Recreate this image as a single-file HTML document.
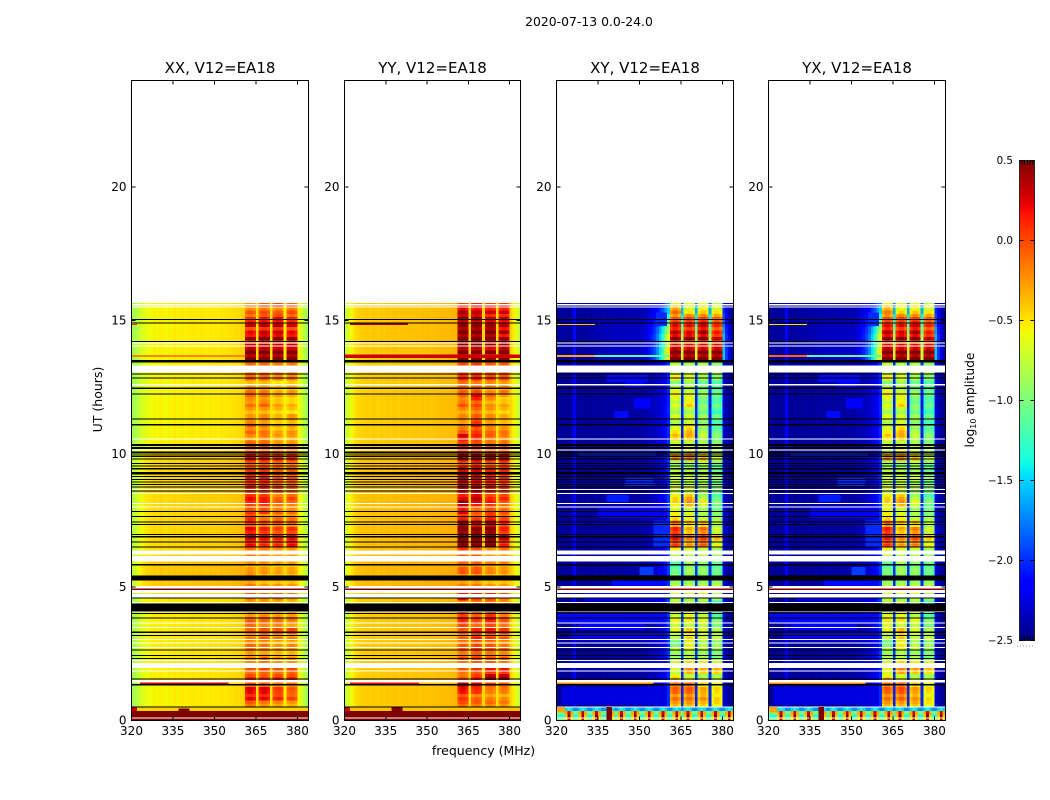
<!DOCTYPE html>
<html>
<head>
<meta charset="utf-8">
<title>2020-07-13 amplitude spectrogram</title>
<style>
html,body{margin:0;padding:0;background:#fff;}
svg{display:block;font-family:"DejaVu Sans","Liberation Sans",sans-serif;}
</style>
</head>
<body>
<svg id="figure" xmlns="http://www.w3.org/2000/svg" width="1050" height="800" viewBox="0 0 1050 800">
  <text x="589" y="26" font-size="12.4" text-anchor="middle" fill="#000">2020-07-13 0.0-24.0</text>
  <text x="483.5" y="755" font-size="12.5" text-anchor="middle" fill="#000">frequency (MHz)</text>
  <text x="0" y="0" transform="translate(102,399.5) rotate(-90)" font-size="12.5" text-anchor="middle" fill="#000">UT (hours)</text>
  <text x="0" y="0" transform="translate(974,400) rotate(-90)" font-size="12.3" text-anchor="middle" fill="#000">log<tspan font-size="8" dy="2">10</tspan><tspan dy="-2"> amplitude</tspan></text>
</svg>
<script>
/* ---------- axis tick labels ---------- */
const freqTicks = [320, 335, 350, 365, 380];
const timeTicks = [0, 5, 10, 15, 20];
const colorTicks = [0.5, 0, -0.5, -1, -1.5, -2, -2.5];

/* ---------- time bins (hours) ---------- */
const timeStarts = [0.5,0.75,1,1.25,1.5,1.75,2,2.25,2.5,2.75,3,3.25,3.5,3.75,4,4.25,4.5,4.75,5,5.25,5.5,5.75,6,6.25,6.5,6.75,7,7.25,7.5,7.75,8,8.25,8.5,8.75,9,9.25,9.5,9.75,10,10.25,10.5,10.75,11,11.25,11.5,11.75,12,12.25,12.5,12.75,13,13.25,13.5,13.75,14,14.25,14.5,14.75,15,15.25,15.5];
const dataEnd = 15.65;
const bottomStarts = [0, 0.1, 0.22, 0.35];
const bottomEnd = 0.5;

/* ---------- half-bin striping seen in the 360-380 MHz subbands (two values per time bin) ---------- */
const subbandRipple = [-.05,.05,.08,-.06,.02,.06,-.08,.05,.06,-.06,-.04,.08,-.07,.05,.08,-.04,-.06,.07,.05,-.08,.06,-.05,.04,.07,-.06,.05,.08,-.07,-.05,.06,.07,-.04,-.07,.05,.06,-.05,.04,-.08,.07,-.05,.06,.05,-.07,.08,.05,-.06,.02,-.03,.06,-.05,.04,.07,-.06,.05,-.07,.08,.05,-.06,.07,-.04,-.05,.07,.06,-.06,-.07,.05,.08,-.05,.04,-.07,.06,.05,-.06,.07,.05,-.05,-.08,.06,.07,-.04,-.06,.05,.07,-.05,.04,-.08,.06,.05,-.07,.06,.08,-.05,-.06,.07,.05,-.06,.04,-.07,.08,.05,-.03,.04,.02,-.02,.12,-.14,.14,-.16,.12,-.12,.15,-.14,.12,-.13,.1,-.12,.14,-.1,.1,-.08,.08,-.06];

/* ---------- harmonic interference frequencies (MHz) ---------- */
const spikeFreqs = [324.5,329.3,334.2,339,343.8,348.7,353.5,358.3,363.1,367.9,372.8,377.6,382.4];

/* ---------- flagged intervals [start hour, end hour] ---------- */
const whiteFlags = [[15.57,15.61],[15.48,15.52],[14.13,14.17],[14.03,14.07],[13.05,13.31],[12.57,12.61],[10.54,10.58],[10.13,10.17],[8.64,8.68],[8.5,8.54],[8.11,8.15],[7.98,8.02],[6.23,6.38],[5.96,6.16],[4.95,5.05],[4.79,4.9],[4.6,4.75],[4.4,4.44],[4.06,4.1],[3.63,3.67],[3.46,3.5],[3.01,3.05],[2.89,2.93],[2.71,2.75],[2.23,2.27],[1.97,2.15],[1.83,1.87],[1.42,1.52],[0.08,0.12]];
const blackFlags = [[15.01,15.05],[14.89,14.93],[14.2,14.24],[13.43,13.51],[12.98,13.02],[12.83,12.87],[12.44,12.48],[12.23,12.27],[11.29,11.33],[11.07,11.11],[10.29,10.36],[10.19,10.26],[10.04,10.08],[9.98,10.02],[9.89,9.93],[9.79,9.83],[9.61,9.65],[9.52,9.56],[9.42,9.46],[9.23,9.31],[9.13,9.17],[9.02,9.06],[8.92,8.96],[8.83,8.87],[8.73,8.77],[8.58,8.62],[7.82,7.86],[7.63,7.67],[7.42,7.46],[7.33,7.37],[6.96,7],[6.87,6.91],[6.68,6.72],[6.49,6.53],[5.82,5.87],[5.25,5.44],[4.58,4.62],[4.09,4.38],[4,4.04],[3.83,3.87],[3.29,3.33],[3.16,3.2],[2.63,2.67],[2.41,2.45],[2.31,2.35],[1.54,1.58],[1.32,1.36]];

/* ---------- faint patches in the cross-hand panels [t0, t1, level, f0, f1] ---------- */
const crossPatches = [[12.7,12.95,-2.1,338,353],[12.5,12.7,-2.15,345,352],[11.7,12.07,-2.15,348,354],[11.35,11.6,-2.1,341,346],[8.2,8.45,-2.05,338,346],[9.9,10.1,-2,328,356],[8.8,9.1,-2,345,355],[14.8,15.3,-2,356,360],[3.7,4,-2.1,320,360],[3.4,3.65,-2.15,328,352],[5.45,5.75,-1.95,350,355],[5.05,5.25,-2.1,340,360],[2,2.25,-2.1,325,360],[0.6,1.25,-2.25,322,360],[6.5,7.5,-2,355,361],[7.6,8,-2.2,335,358],[3,3.3,-2.2,325,358],[4.5,4.8,-2.15,330,358]];

/* ---------- XX: per-channel baselines (log10 amp), 1 MHz channels from 320 ---------- */
const xxDim = [-.9,-.85,-.78,-.72,-.68,-.64,-.62,-.6,-.58,-.6,-.56,-.58,-.6,-.56,-.58,-.55,-.58,-.56,-.55,-.57,-.56,-.55,-.54,-.56,-.55,-.54,-.55,-.56,-.54,-.55,-.54,-.55,-.53,-.54,-.53,-.52,-.52,-.5,-.5,-.48,-.46,-.4,-.4,-.4,-.4,-.5,-.4,-.4,-.4,-.4,-.5,-.4,-.4,-.4,-.4,-.55,-.4,-.4,-.4,-.4,-.58,-.68,-.78,-.9];
const xxBright = [-.75,-.68,-.6,-.52,-.48,-.45,-.44,-.42,-.41,-.43,-.4,-.41,-.43,-.4,-.41,-.39,-.41,-.4,-.39,-.4,-.39,-.39,-.38,-.39,-.38,-.38,-.38,-.39,-.37,-.38,-.37,-.38,-.36,-.37,-.36,-.36,-.35,-.35,-.34,-.33,-.33,-.3,-.3,-.3,-.3,-.42,-.3,-.3,-.3,-.3,-.42,-.3,-.3,-.3,-.3,-.45,-.3,-.3,-.3,-.3,-.5,-.58,-.68,-.8];
const xxWeights = [.2,.2,.2,.25,.3,.3,.3,.3,.3,.3,.3,.3,.3,.3,.3,.3,.4,.4,1,1,1,1,.7,.7,.7,.7,.7,.7,.7,.7,.7,.7,.7,.7,.7,.7,.7,.7,.5,.3,.15,.15,.15,.15,.15,.15,.15,.15,.15,.15,.15,.15,.2,.2,.2,.2,.2,.2,.2,.2,.2];
const xxShape = [-.05,.02,.02,-.05];
const xxLevels = [[-.1,-.2,-.25,-.3],[.15,.15,.05,-.05],[.2,.2,0,-.1],[-.05,-.05,-.15,-.15],[.05,0,.05,.05],[-.1,-.05,-.1,-.05],[-.25,-.2,-.3,-.3],[-.25,-.2,-.3,-.3],[-.2,-.25,-.3,-.3],[-.15,-.2,-.3,-.25],[-.2,-.1,-.2,-.25],[-.15,-.1,-.1,-.05],[-.05,-.15,-.15,-.25],[-.2,-.15,-.2,-.2],[-.2,-.2,-.2,-.2],[-.25,-.25,-.3,-.35],[-.1,-.15,-.1,-.2],[-.1,-.15,-.15,-.2],[-.2,-.3,-.3,-.3],[-.15,-.3,-.3,-.3],[-.3,-.3,-.35,-.35],[-.3,-.3,-.35,-.35],[-.1,-.15,-.2,-.2],[-.1,-.15,-.2,-.2],[.15,.05,.05,.15],[.25,.15,.1,.15],[.2,.1,0,.05],[0,-.1,-.1,-.15],[.05,-.2,-.15,-.2],[0,0,-.15,-.2],[.05,.1,-.1,-.15],[.15,.1,-.15,-.05],[.05,.05,0,-.1],[.1,.1,-.05,-.05],[.15,.15,0,0],[0,0,-.1,-.1],[-.05,-.05,-.1,-.15],[.2,.15,.1,.1],[.05,.05,-.05,-.05],[-.05,-.05,-.2,-.2],[-.25,-.2,-.3,-.3],[-.15,-.2,-.35,-.3],[-.1,-.2,-.35,-.3],[-.3,-.25,-.4,-.3],[-.3,-.3,-.4,-.45],[-.2,-.15,-.35,-.4],[-.15,-.2,-.35,-.4],[-.15,-.2,-.35,-.3],[-.3,-.3,-.45,-.35],[-.15,-.15,-.25,-.25],[-.1,-.1,-.1,-.1],[-.1,-.1,-.15,-.15],[.5,.5,.5,.5],[.5,.5,.45,.45],[.2,.25,.2,.2],[.3,.4,.35,.3],[.1,.2,.2,.1],[.25,.3,.3,.2],[-.05,.05,.1,0],[-.15,-.1,-.15,-.1],[-.2,0,.05,-.05]];
const xxBottomBase = [.5,.5,.5,-.45];
const xxBottomNear = [.5,.5,.5,-.45];
const xxBottomSpike = [.5,.5,.5,-.45];
const xxStreaks = [[13.63,13.7,-.2,320,361],[4.9,4.95,.5,320,384],[1.375,1.42,.3,323,355],[.35,.5,.3,320,322],[.35,.45,.5,337,341],[14.83,14.875,.1,320,322]];
const xxPatches = [];
const xxExtraWhite = [];
const xxExtraBlack = [[.49,.53]];

/* ---------- YY ---------- */
const yyDim = [-.75,-.68,-.6,-.52,-.48,-.46,-.45,-.44,-.43,-.45,-.42,-.44,-.45,-.42,-.44,-.42,-.43,-.42,-.41,-.43,-.42,-.41,-.41,-.42,-.41,-.41,-.41,-.42,-.4,-.41,-.4,-.41,-.4,-.4,-.39,-.39,-.39,-.38,-.38,-.37,-.36,-.3,-.3,-.3,-.3,-.48,-.3,-.3,-.3,-.3,-.48,-.3,-.3,-.3,-.3,-.5,-.3,-.3,-.3,-.3,-.45,-.55,-.65,-.75];
const yyBright = [-.62,-.55,-.48,-.42,-.38,-.36,-.36,-.35,-.34,-.36,-.33,-.35,-.36,-.33,-.35,-.33,-.34,-.33,-.33,-.34,-.33,-.33,-.32,-.33,-.32,-.32,-.32,-.33,-.31,-.32,-.31,-.32,-.31,-.31,-.3,-.3,-.3,-.3,-.3,-.3,-.3,-.3,-.3,-.3,-.3,-.4,-.3,-.3,-.3,-.3,-.4,-.3,-.3,-.3,-.3,-.42,-.3,-.3,-.3,-.3,-.4,-.48,-.58,-.68];
const yyWeights = [.2,.2,.2,.2,.2,.2,.2,.2,.2,.2,.2,.2,.2,.2,.2,.2,.2,.2,.8,.8,.8,.8,.6,.6,.6,.6,.6,.6,.6,.6,.6,.6,.6,.6,.6,.6,.6,.6,.4,.3,.1,.1,.1,.1,.1,.1,.1,.1,.1,.1,.1,.1,.3,.3,.3,.3,.3,.3,.3,.3,.3];
const yyShape = [-.05,.02,.02,-.05];
const yyLevels = [[-.05,-.1,-.15,-.2],[0,-.15,-.25,-.3],[.15,.05,-.2,-.2],[.4,.25,0,-.05],[-.1,.1,.4,.4],[-.1,0,.1,.1],[-.2,-.1,-.1,-.2],[-.1,0,-.1,-.15],[-.1,0,-.1,-.15],[-.1,-.05,-.1,-.2],[-.1,.1,0,-.1],[-.1,.05,.1,0],[.05,-.05,.05,-.1],[.1,0,.15,-.1],[.1,0,.1,-.1],[-.2,-.1,-.1,-.2],[.3,.1,.05,-.1],[.1,.1,.05,-.05],[-.2,-.2,-.3,-.3],[-.2,-.2,-.3,-.3],[-.1,-.1,-.25,-.3],[-.15,-.15,-.25,-.25],[0,0,-.2,-.2],[.1,0,-.2,-.1],[.5,.5,.5,.1],[.5,.5,.5,.3],[.5,.5,.5,.1],[.5,.3,.35,.05],[.1,0,.1,-.05],[.2,-.1,0,-.1],[.4,.2,.1,-.1],[.2,.3,.05,.05],[.25,.25,.1,0],[.35,.25,.15,.05],[.4,.3,.2,.1],[.2,.2,.1,.05],[0,.1,-.05,0],[.4,.4,.35,.3],[.2,.1,0,0],[.1,.05,-.1,-.1],[.25,.1,-.1,-.2],[-.1,0,-.15,-.2],[-.2,.15,-.2,-.3],[-.25,-.1,-.25,-.35],[-.25,-.15,-.3,-.4],[-.1,-.05,-.3,-.35],[-.15,.2,-.15,-.35],[-.1,-.05,-.25,-.2],[-.05,-.1,-.15,-.2],[.05,.05,-.05,-.1],[0,0,0,0],[0,.05,-.05,-.05],[.5,.4,.3,.5],[.5,.5,.4,.5],[.5,.5,.35,.3],[.5,.5,.5,.3],[.5,.5,.5,.3],[.4,.4,.35,.3],[.4,.35,.2,.2],[.3,.25,.2,.2],[.1,.2,.1,.1]];
const yyBottomBase = [.5,.5,.5,-.4];
const yyBottomNear = [.5,.5,.5,-.4];
const yyBottomSpike = [.5,.5,.5,-.4];
const yyStreaks = [[13.6,13.72,.3,320,384],[14.83,14.92,.4,322,343],[4.9,4.95,.5,320,384],[1.375,1.42,.2,322,347],[.35,.5,.3,320,322],[.35,.5,.5,337,341]];
const yyPatches = [];
const yyExtraWhite = [];
const yyExtraBlack = [[.49,.53]];

/* ---------- XY ---------- */
const xyDim = [-2.45,-2.42,-2.45,-2.42,-2.45,-2.4,-2.15,-2.42,-2.45,-2.42,-2.45,-2.42,-2.45,-2.42,-2.42,-2.45,-2.42,-2.42,-2.45,-2.42,-2.42,-2.42,-2.42,-2.45,-2.42,-2.42,-2.42,-2.42,-2.42,-2.42,-2.42,-2.42,-2.4,-2.4,-2.4,-2.38,-2.38,-2.38,-2.35,-2.3,-2.2,-1,-1,-1,-1,-2.2,-1,-1,-1,-1,-2.2,-1,-1,-1,-1,-2.2,-1,-1,-1,-1,-2.35,-2.42,-2.45,-2.45];
const xyBright = [-2.42,-2.4,-2.42,-2.4,-2.42,-2.4,-2.1,-2.4,-2.42,-2.4,-2.4,-2.38,-2.38,-2.38,-2.35,-2.35,-2.35,-2.32,-2.32,-2.32,-2.3,-2.3,-2.3,-2.3,-2.3,-2.3,-2.3,-2.3,-2.3,-2.3,-2.3,-2.25,-2.2,-2.05,-1.95,-1.8,-1.6,-1.3,-1,-.5,-.2,-1,-1,-1,-1,-.5,-1,-1,-1,-1,-.5,-1,-1,-1,-1,-.5,-1,-1,-1,-1,-1.4,-1.9,-2.2,-2.35];
const xyWeights = [.1,.1,.1,.1,.1,.08,.1,.12,.12,.1,.1,.1,.12,.12,.1,.15,.12,.1,.1,.1,.12,.12,.1,.1,.15,.15,.15,.12,.1,.1,.12,.12,.1,.1,.12,.1,.1,.12,.1,.1,.08,.1,.08,.08,.1,.08,.08,.1,.08,.1,.1,.12,.85,.85,.75,.8,.7,.6,.45,.35,.25];
const xyShape = [-.12,.02,.02,-.1];
const xyLevels = [[-.3,-.3,-.4,-.5],[-.2,-.2,-.3,-.5],[-.1,-.1,-.35,-.5],[-.1,-.1,-.45,-.6],[-.5,-.7,-.8,-.8],[-.7,-.3,-.4,-.4],[-.7,-.5,-.6,-.7],[-.9,-.8,-.85,-1],[-.8,-.7,-.8,-.9],[-1,-.6,-.8,-.9],[-.8,-.5,-.7,-.75],[-.65,-.5,-.7,-.85],[-.65,-.7,-.7,-.95],[-.65,-.55,-.7,-1.1],[-.65,-.55,-.7,-1.1],[-.7,-.7,-.8,-1.2],[-.7,-.8,-.7,-.8],[-.7,-.7,-.65,-.85],[-.8,-.8,-.8,-.8],[-.9,-.85,-.9,-1],[-1.1,-.9,-.95,-1.1],[-1.2,-.9,-1,-1.1],[-.7,-.7,-.7,-.8],[-.5,-.6,-.7,-.8],[0,-.3,-.1,-.6],[.15,-.2,0,-.4],[.1,-.35,-.15,-.7],[-.2,-.45,-.4,-.8],[-.5,-.6,-.8,-.9],[-.6,-.7,-.85,-1],[-.5,-.3,-.6,-1],[-.5,-.35,-.8,-1.1],[-.7,-.7,-.85,-1],[-.75,-.75,-.85,-1],[-.7,-.7,-.7,-.9],[-.8,-.85,-.9,-1.1],[-.9,-.9,-.8,-1],[-.25,-.2,-.4,-.7],[-.7,-.5,-.7,-.8],[-.7,-.7,-.8,-.9],[-.4,-.35,-.75,-.95],[-.55,-.4,-.85,-1.1],[-.75,-.6,-.85,-1.1],[-.7,-.75,-.9,-1.1],[-.8,-.8,-1,-1.2],[-.7,-.5,-1,-1.1],[-.6,-.6,-.95,-1.1],[-.6,-.75,-.95,-1.1],[-.9,-.8,-1,-1.1],[-.6,-.7,-.9,-1],[-.7,-.7,-.7,-.7],[-.75,-.8,-.8,-.9],[.5,.5,.5,.5],[.5,.45,.45,.45],[.1,.1,.1,.1],[.35,.35,.35,.2],[.25,.15,.3,.05],[.15,.15,.25,.05],[-.15,-.1,-.1,-.2],[-.2,-.6,-.5,-.6],[-.5,-.6,-.55,-.7]];
const xyBottomBase = [-1,-1.3,-1,-1.7];
const xyBottomNear = [-.5,-.4,-.3,-1.5];
const xyBottomSpike = [.3,.5,.3,-1.4];
const xyStreaks = [[13.63,13.7,-.3,320,334],[13.63,13.7,-1.1,334,361],[14.83,14.875,-.4,320,334],[4.9,4.95,.5,320,384],[1.375,1.42,-.2,320,355],[.3,.5,-.3,320,323],[0,.5,.5,338,340]];
const xyExtraWhite = [[.49,.53]];
const xyExtraBlack = [];

/* ---------- YX ---------- */
const yxDim = [-2.45,-2.42,-2.45,-2.42,-2.45,-2.4,-2.2,-2.42,-2.45,-2.42,-2.45,-2.42,-2.45,-2.42,-2.42,-2.45,-2.42,-2.42,-2.45,-2.42,-2.42,-2.42,-2.42,-2.45,-2.42,-2.42,-2.42,-2.42,-2.42,-2.42,-2.42,-2.42,-2.4,-2.4,-2.4,-2.38,-2.38,-2.38,-2.35,-2.3,-2.2,-1,-1,-1,-1,-2.2,-1,-1,-1,-1,-2.2,-1,-1,-1,-1,-2.2,-1,-1,-1,-1,-2.35,-2.42,-2.45,-2.45];
const yxBright = [-2.42,-2.4,-2.42,-2.4,-2.42,-2.4,-2.1,-2.4,-2.42,-2.4,-2.4,-2.38,-2.38,-2.38,-2.35,-2.35,-2.35,-2.32,-2.32,-2.32,-2.3,-2.3,-2.3,-2.3,-2.3,-2.3,-2.3,-2.3,-2.3,-2.3,-2.3,-2.25,-2.2,-2.05,-1.95,-1.8,-1.6,-1.3,-1,-.5,-.2,-1,-1,-1,-1,-.5,-1,-1,-1,-1,-.5,-1,-1,-1,-1,-.5,-1,-1,-1,-1,-1.4,-1.9,-2.2,-2.35];
const yxWeights = [.1,.1,.1,.1,.1,.08,.1,.12,.12,.1,.1,.1,.12,.12,.1,.15,.12,.1,.1,.1,.12,.12,.1,.1,.15,.15,.15,.12,.1,.1,.12,.12,.1,.1,.12,.1,.1,.12,.1,.1,.08,.1,.08,.08,.1,.08,.08,.1,.08,.1,.1,.12,.85,.85,.75,.8,.7,.6,.45,.35,.25];
const yxShape = [-.12,.02,.02,-.1];
const yxLevels = [[-.3,-.3,-.35,-.55],[-.2,-.15,-.3,-.55],[-.1,-.05,-.3,-.5],[-.1,-.1,-.4,-.6],[-.5,-.65,-.8,-.8],[-.65,-.25,-.35,-.45],[-.7,-.5,-.6,-.7],[-.85,-.8,-.85,-1],[-.8,-.7,-.8,-.9],[-1,-.55,-.8,-.9],[-.8,-.45,-.75,-.75],[-.65,-.45,-.7,-.85],[-.6,-.65,-.7,-.95],[-.6,-.55,-.7,-1.05],[-.6,-.55,-.7,-1.05],[-.7,-.7,-.8,-1.15],[-.7,-.8,-.7,-.8],[-.7,-.7,-.65,-.85],[-.8,-.8,-.8,-.8],[-.9,-.85,-.9,-1],[-1.05,-.9,-.95,-1.1],[-1.15,-.9,-1,-1.1],[-.7,-.7,-.7,-.8],[-.5,-.6,-.7,-.8],[0,-.3,-.2,-.6],[.1,-.25,-.05,-.45],[.1,-.35,-.2,-.7],[-.2,-.45,-.45,-.8],[-.5,-.6,-.8,-.9],[-.6,-.7,-.85,-1],[-.5,-.3,-.65,-1],[-.5,-.35,-.8,-1.1],[-.7,-.7,-.85,-1],[-.75,-.75,-.85,-1],[-.7,-.7,-.7,-.9],[-.8,-.85,-.9,-1.1],[-.9,-.9,-.8,-1],[-.25,-.2,-.4,-.7],[-.7,-.5,-.7,-.8],[-.7,-.7,-.8,-.9],[-.45,-.35,-.75,-.95],[-.6,-.4,-.85,-1.1],[-.75,-.6,-.85,-1.1],[-.7,-.75,-.9,-1.1],[-.8,-.8,-1,-1.2],[-.7,-.5,-1,-1.1],[-.6,-.6,-.95,-1.1],[-.6,-.75,-.95,-1.1],[-.9,-.8,-1,-1.1],[-.6,-.7,-.9,-1],[-.7,-.7,-.7,-.7],[-.75,-.8,-.8,-.9],[.5,.5,.5,.5],[.5,.45,.45,.45],[.1,.1,.1,.1],[.35,.35,.35,.2],[.25,.15,.3,.05],[.15,.15,.25,.05],[-.15,-.1,-.1,-.2],[-.25,-.55,-.5,-.6],[-.5,-.6,-.55,-.7]];
const yxBottomBase = [-1,-1.3,-1,-1.7];
const yxBottomNear = [-.5,-.4,-.3,-1.5];
const yxBottomSpike = [.3,.5,.3,-1.4];
const yxStreaks = [[13.63,13.7,-.1,320,334],[13.63,13.7,-1.1,334,361],[14.83,14.875,-.5,320,334],[4.9,4.95,.5,320,384],[1.375,1.42,-.2,320,355],[.3,.5,-.3,320,323],[0,.5,.5,338,340]];
const yxExtraWhite = [[.49,.53]];
const yxExtraBlack = [];

/* ---------- panel lookup ---------- */
const panelTitles = ["XX, V12=EA18", "YY, V12=EA18", "XY, V12=EA18", "YX, V12=EA18"];
const panelKeys = ["xx", "yy", "xy", "yx"];
const panelData = [
  {dim:xxDim, bright:xxBright, weights:xxWeights, shape:xxShape, levels:xxLevels, bb:xxBottomBase, bn:xxBottomNear, bs:xxBottomSpike, streaks:xxStreaks, patches:xxPatches, ew:xxExtraWhite, eb:xxExtraBlack},
  {dim:yyDim, bright:yyBright, weights:yyWeights, shape:yyShape, levels:yyLevels, bb:yyBottomBase, bn:yyBottomNear, bs:yyBottomSpike, streaks:yyStreaks, patches:yyPatches, ew:yyExtraWhite, eb:yyExtraBlack},
  {dim:xyDim, bright:xyBright, weights:xyWeights, shape:xyShape, levels:xyLevels, bb:xyBottomBase, bn:xyBottomNear, bs:xyBottomSpike, streaks:xyStreaks, patches:crossPatches, ew:xyExtraWhite, eb:xyExtraBlack},
  {dim:yxDim, bright:yxBright, weights:yxWeights, shape:yxShape, levels:yxLevels, bb:yxBottomBase, bn:yxBottomNear, bs:yxBottomSpike, streaks:yxStreaks, patches:crossPatches, ew:yxExtraWhite, eb:yxExtraBlack}
];

/* ---------- layout & scales ---------- */
const NS = "http://www.w3.org/2000/svg";
const svg = document.getElementById("figure");
const panelLefts = [131.5, 344.5, 556.5, 768.5];
const panelRights = [308.5, 520.5, 733.5, 945.5];
const axisTop = 80.5, axisBottom = 720.5;
const fMin = 320, fMax = 384, tMax = 24, vMin = -2.5, vMax = 0.5;
const nChan = 64;
function xOf(i, f) { return panelLefts[i] + (f - fMin) / (fMax - fMin) * (panelRights[i] - panelLefts[i]); }
function yOf(t) { return axisBottom - t / tMax * (axisBottom - axisTop); }
function seg(v, pts) {
  for (let k = 1; k < pts.length; k++) {
    if (v <= pts[k][0]) {
      const a = pts[k-1], b = pts[k];
      return a[1] + (b[1]-a[1]) * (v-a[0]) / (b[0]-a[0]);
    }
  }
  return pts[pts.length-1][1];
}
function jet(val) {
  const v = Math.max(0, Math.min(1, (val - vMin) / (vMax - vMin)));
  const r = seg(v, [[0,0],[.35,0],[.66,1],[.89,1],[1,.5]]);
  const g = seg(v, [[0,0],[.125,0],[.375,1],[.64,1],[.91,0],[1,0]]);
  const b = seg(v, [[0,.5],[.11,1],[.34,1],[.65,0],[1,0]]);
  return "rgb(" + Math.round(r*255) + "," + Math.round(g*255) + "," + Math.round(b*255) + ")";
}
const subbandFirst = [41, 46, 51, 56];
function subbandOf(ch) {
  for (let b = 0; b < 4; b++) {
    if (ch >= subbandFirst[b] && ch < subbandFirst[b] + 4) return b;
  }
  return -1;
}
function mk(tag, attrs, parent) {
  const el = document.createElementNS(NS, tag);
  for (const k in attrs) el.setAttribute(k, attrs[k]);
  parent.appendChild(el);
  return el;
}

/* ---------- draw panels ---------- */
panelData.forEach(function (d, i) {
  const key = panelKeys[i];
  const g = mk("g", {"shape-rendering": "crispEdges"}, svg);
  
  
  const left = panelLefts[i], width = panelRights[i] - panelLefts[i];

  function cell(t0, t1, ch, val) {
    const r = mk("rect", {x: xOf(i, fMin + ch), y: yOf(t1), width: xOf(i, fMin + ch + 1) - xOf(i, fMin + ch), height: yOf(t0) - yOf(t1), fill: jet(val)}, g);
    
    
  }

  /* main body rows: subband channels are split into two ripple halves */
  timeStarts.forEach(function (t0, r) {
    const t1 = r + 1 < timeStarts.length ? timeStarts[r + 1] : dataEnd;
    const tm = (t0 + t1) / 2;
    for (let ch = 0; ch < nChan; ch++) {
      const b = subbandOf(ch);
      if (b >= 0) {
        const base = d.levels[r][b] + d.shape[ch - subbandFirst[b]];
        cell(t0, tm, ch, base + subbandRipple[2 * r]);
        cell(tm, t1, ch, base + subbandRipple[2 * r + 1]);
      } else {
        cell(t0, t1, ch, d.dim[ch] + d.weights[r] * (d.bright[ch] - d.dim[ch]));
      }
    }
  });

  /* bottom strip with harmonics */
  const spikeCh = spikeFreqs.map(function (f) { return Math.floor(f - fMin); });
  bottomStarts.forEach(function (t0, r) {
    const t1 = r + 1 < bottomStarts.length ? bottomStarts[r + 1] : bottomEnd;
    for (let ch = 0; ch < nChan; ch++) {
      let val = d.bb[r];
      if (spikeCh.indexOf(ch - 1) >= 0 || spikeCh.indexOf(ch + 1) >= 0) val = d.bn[r];
      if (spikeCh.indexOf(ch) >= 0) val = d.bs[r];
      cell(t0, t1, ch, val);
    }
  });

  /* faint low-level patches */
  d.patches.forEach(function (p) {
    const r = mk("rect", {x: xOf(i, p[3]), y: yOf(p[1]), width: xOf(i, p[4]) - xOf(i, p[3]), height: yOf(p[0]) - yOf(p[1]), fill: jet(p[2])}, g);
    
    
  });

  /* white flagged intervals */
  whiteFlags.concat(d.ew).forEach(function (w) {
    const r = mk("rect", {x: left, y: yOf(w[1]), width: width, height: yOf(w[0]) - yOf(w[1]), fill: "#fff"}, g);
    
    
  });

  /* narrow-band streaks */
  d.streaks.forEach(function (s) {
    const r = mk("rect", {x: xOf(i, s[3]), y: yOf(s[1]), width: xOf(i, s[4]) - xOf(i, s[3]), height: yOf(s[0]) - yOf(s[1]), fill: jet(s[2])}, g);
    
    
  });

  /* black flagged intervals */
  blackFlags.concat(d.eb).forEach(function (w) {
    const r = mk("rect", {x: left, y: yOf(w[1]), width: width, height: yOf(w[0]) - yOf(w[1]), fill: "#000"}, g);
    
    
  });

  /* frame */
  const frame = mk("rect", {x: left, y: axisTop, width: width, height: axisBottom - axisTop, fill: "none", stroke: "#000", "stroke-width": 1, "shape-rendering": "crispEdges"}, svg);
  
  

  /* x ticks */
  freqTicks.forEach(function (f) {
    const x = xOf(i, f);
    const l1 = mk("line", {x1: x, x2: x, y1: axisBottom, y2: axisBottom - 4, stroke: "#000", "shape-rendering": "crispEdges"}, svg);
    
    
    const l2 = mk("line", {x1: x, x2: x, y1: axisTop, y2: axisTop + 4, stroke: "#000", "shape-rendering": "crispEdges"}, svg);
    
    
    const t = mk("text", {x: x, y: 735, "font-size": 12, "text-anchor": "middle", fill: "#000"}, svg);
    t.textContent = String(f);
    
    
  });

  /* y ticks */
  timeTicks.forEach(function (h) {
    const y = yOf(h);
    const l1 = mk("line", {x1: left, x2: left + 4, y1: y, y2: y, stroke: "#000", "shape-rendering": "crispEdges"}, svg);
    
    
    const l2 = mk("line", {x1: left + width, x2: left + width - 4, y1: y, y2: y, stroke: "#000", "shape-rendering": "crispEdges"}, svg);
    
    
    const t = mk("text", {x: left - 5, y: y + 4, "font-size": 12, "text-anchor": "end", fill: "#000"}, svg);
    t.textContent = String(h);
    
    
  });

  /* title */
  const tt = mk("text", {x: left + width / 2, y: 73, "font-size": 15, "text-anchor": "middle", fill: "#000"}, svg);
  tt.textContent = panelTitles[i];
  
  
});

/* ---------- colour bar ---------- */
const cbX = 1019.5, cbW = 15, cbTop = 160.5, cbBottom = 640.5;
function cbY(v) { return cbBottom - (v - vMin) / (vMax - vMin) * (cbBottom - cbTop); }
const cbGroup = mk("g", {"shape-rendering": "crispEdges"}, svg);


for (let k = 0; k < 240; k++) {
  const v0 = vMin + (vMax - vMin) * k / 240;
  const v1 = vMin + (vMax - vMin) * (k + 1) / 240;
  const r = mk("rect", {x: cbX, y: cbY(v1), width: cbW, height: cbY(v0) - cbY(v1) + 0.5, fill: jet((v0 + v1) / 2)}, cbGroup);
  
  
}
const cbFrame = mk("rect", {x: cbX, y: cbTop, width: cbW, height: cbBottom - cbTop, fill: "none", stroke: "#222", "shape-rendering": "crispEdges"}, svg);


colorTicks.forEach(function (v) {
  const y = cbY(v);
  const l1 = mk("line", {x1: cbX, x2: cbX + 4, y1: y, y2: y, stroke: "#000", "shape-rendering": "crispEdges"}, svg);
  
  
  const l2 = mk("line", {x1: cbX + cbW, x2: cbX + cbW - 4, y1: y, y2: y, stroke: "#000", "shape-rendering": "crispEdges"}, svg);
  
  
  const t = mk("text", {x: 1013, y: y + 3.5, "font-size": 10.3, "text-anchor": "end", fill: "#000"}, svg);
  t.textContent = v < 0 ? "\u2212" + Math.abs(v).toFixed(1) : v.toFixed(1);
  
  
});
for (let k = 1; k <= 5; k++) {
  const x = cbX + k * 2.6;
  const a = mk("line", {x1: x, x2: x, y1: cbTop, y2: cbTop + 4, stroke: "#000", "shape-rendering": "crispEdges"}, svg);
  
  
  const b = mk("line", {x1: x, x2: x, y1: cbBottom, y2: cbBottom - 4, stroke: "#000", "shape-rendering": "crispEdges"}, svg);
  
  
}
const dots = mk("line", {x1: 1017, x2: 1035, y1: 646, y2: 646, stroke: "#999", "stroke-dasharray": "1 2"}, svg);


</script>
</body>
</html>
